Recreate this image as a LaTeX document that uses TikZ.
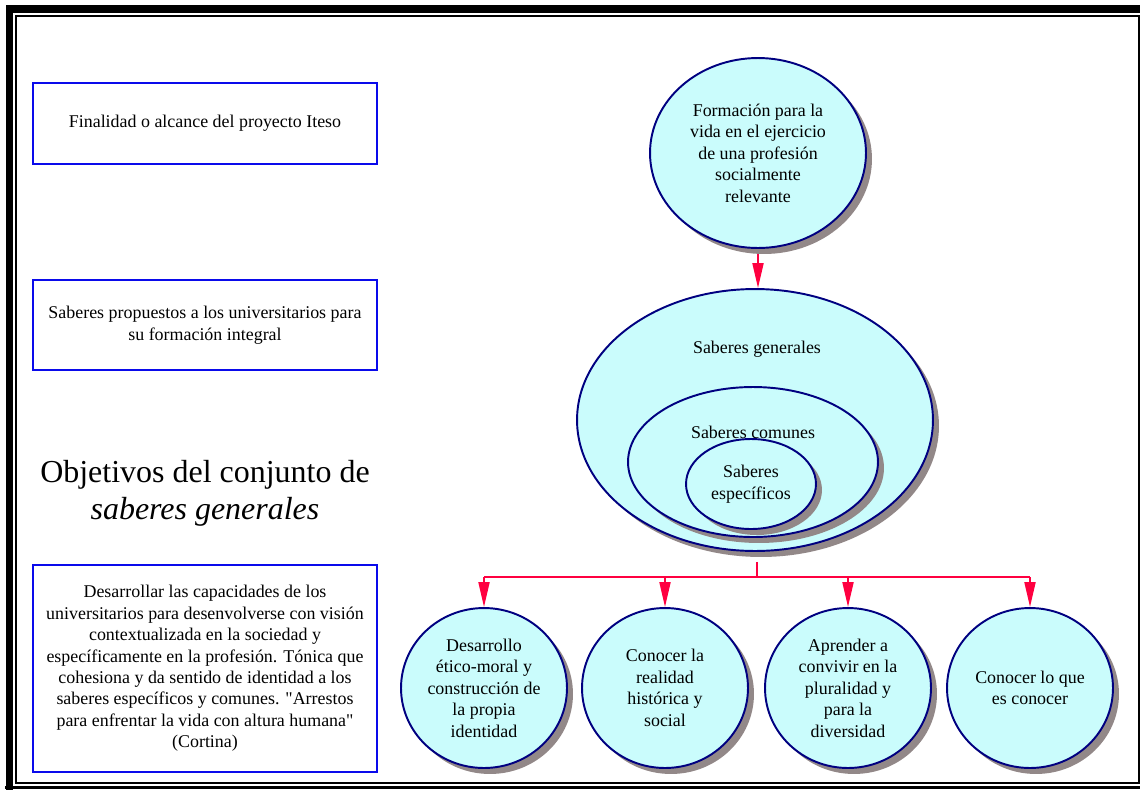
\documentclass[tikz,border=0pt]{standalone}
\usepackage{fontspec}
\setmainfont{Liberation Serif}
\usepackage{xcolor}
\usetikzlibrary{
	arrows.meta,
	shapes.geometric,
	shadows
}
\definecolor{navyline}{RGB}{0,0,128}
\definecolor{bubblefill}{RGB}{202,252,252}
\definecolor{shadowgray}{RGB}{146,136,136}
\definecolor{redline}{RGB}{255,0,64}
\definecolor{boxblue}{RGB}{10,10,235}

\begin{document}
\begin{tikzpicture}[x=0.02cm, y=-0.02cm,
	txt/.style={font=\fontsize{10.2}{12.2}\selectfont, align=center},
	box/.style={rectangle, draw=boxblue, line width=0.8pt, minimum width=6.88cm, txt},
	bubble/.style={ellipse, draw=navyline, line width=1.1pt, fill=bubblefill, inner sep=0pt,
		drop shadow={shadow xshift=0.12cm, shadow yshift=-0.12cm, fill=shadowgray, opacity=1}, txt},
	conn/.style={draw=redline, line width=1.1pt},
	arrowtip/.style={-{Triangle[length=0.5cm, width=0.22cm]}}
]
	\useasboundingbox (0,0) rectangle (1140,789);
	\clip (0,0) rectangle (1140,789);
	% frame
	\draw[line width=0.16cm] (9.5,800) -- (9.5,9) -- (1150,9);
	\fill (5,785.5) rectangle (1140,789);
	\draw[line width=0.04cm] (16,16) rectangle (1139,783);
	% left column
	\node[box, minimum height=1.62cm] (B1) at (205,123.5) {Finalidad o alcance del proyecto Iteso};
	\node[box, minimum height=1.8cm] (B2) at (205,325) {Saberes propuestos a los universitarios para\\su formación integral};
	\node[font=\fontsize{18.2}{21}\selectfont, align=center] (T) at (205,493) {Objetivos del conjunto de\\\textit{saberes generales}};
	\node[box, minimum height=4.14cm] (B3) at (205,668.5) {Desarrollar las capacidades de los\\universitarios para desenvolverse con visión\\contextualizada en la sociedad y\\específicamente en la profesión. Tónica que\\cohesiona y da sentido de identidad a los\\saberes específicos y comunes. \textquotedbl Arrestos\\para enfrentar la vida con altura humana\textquotedbl\\(Cortina)};
	% right column
	\node[bubble, minimum width=4.32cm, minimum height=3.8cm] (F) at (758,153) {Formación para la\\vida en el ejercicio\\de una profesión\\socialmente\\relevante};
	\node[bubble, minimum width=7.12cm, minimum height=5.24cm] (G) at (755,420) {};
	\node[bubble, minimum width=5cm, minimum height=3cm] (C) at (753,462) {};
	\node[bubble, minimum width=2.6cm, minimum height=1.8cm] (E) at (751,484) {Saberes\\específicos};
	\node[txt] (g) at (757,349) {Saberes generales};
	\node[txt] (c) at (753,432) {Saberes comunes};
	\foreach \n/\x/\t in {D1/484/{Desarrollo\\ético-moral y\\construcción de\\la propia\\identidad},
		D2/665/{Conocer la\\realidad\\histórica y\\social},
		D3/848/{Aprender a\\convivir en la\\pluralidad y\\para la\\diversidad},
		D4/1030/{Conocer lo que\\es conocer}}
	\node[bubble, minimum width=3.32cm, minimum height=3.2cm] (\n) at (\x,688) {\t};
	% connectors
	\draw[conn, arrowtip, shorten <=0.1cm] (F.south) -- (F.south |- G.north);
	\coordinate (bus) at (757,577);
	\draw[conn, shorten <=0.2cm] (G.south -| bus) -- (bus);
	\draw[conn] (D1.north |- bus) -- (D4.north |- bus);
	\foreach \n in {D1,D2,D3,D4}
	\draw[conn, arrowtip] (\n.north |- bus) -- (\n.north);
\end{tikzpicture}
\end{document}
